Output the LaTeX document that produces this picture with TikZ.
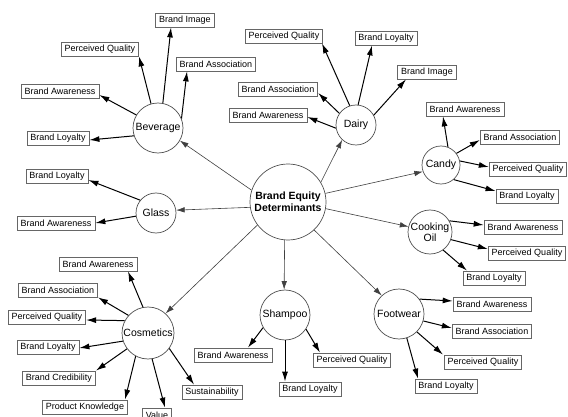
\documentclass[tikz,border=0pt]{standalone}
\usepackage{fontspec}
\setmainfont{Liberation Sans}
\usetikzlibrary{arrows.meta}
\definecolor{circgray}{HTML}{505050}
\definecolor{boxgray}{HTML}{666666}
\definecolor{hubline}{HTML}{404040}
\begin{document}
\begin{tikzpicture}[x=1pt,y=-1pt,
  cat/.style={circle, draw=circgray, line width=0.7pt, fill=white, inner sep=0pt,
    align=center, font=\fontsize{10.5}{11.5}\selectfont},
  hub/.style={cat, font=\bfseries\fontsize{10.5}{12}\selectfont},
  leaf/.style={rectangle, draw=boxgray, line width=0.8pt, fill=white,
    inner xsep=3.5pt, inner ysep=0pt, minimum height=14pt,
    font=\fontsize{9}{10}\selectfont},
  hub arrow/.style={-{Latex[length=8.5pt,width=5.5pt]}, line width=0.6pt, draw=hubline},
  leaf arrow/.style={-{Latex[length=10pt,width=6pt]}, line width=1pt}]
\useasboundingbox (0,0) rectangle (568,417);
\fill[white] (0,0) rectangle (568,417);

% hub and categories
\node[hub, minimum size=76pt] (hub) at (288,202) {Brand Equity\\Determinants};
\node[cat, minimum size=50pt] (bev) at (158,128) {Beverage};
\node[cat, minimum size=40pt] (gla) at (156,213) {Glass};
\node[cat, minimum size=40pt] (dai) at (356,125) {Dairy};
\node[cat, minimum size=38pt] (can) at (441,165) {Candy};
\node[cat, minimum size=44pt] (oil) at (430,232) {Cooking\\Oil};
\node[cat, minimum size=50pt] (foo) at (399,314) {Footwear};
\node[cat, minimum size=50pt] (sha) at (285,315) {Shampoo};
\node[cat, minimum size=52pt] (cos) at (148,333) {Cosmetics};

% Beverage
\node[leaf] (bevimg) at (185,20) {Brand Image};
\node[leaf] (bevpq)  at (100,49) {Perceived Quality};
\node[leaf] (bevba)  at (216,64) {Brand Association};
\node[leaf] (bevaw)  at (60,91)  {Brand Awareness};
\node[leaf] (bevbl)  at (58,138) {Brand Loyalty};
% Glass
\node[leaf] (glabl) at (57,176) {Brand Loyalty};
\node[leaf] (glaaw) at (56,223) {Brand Awareness};
% Dairy
\node[leaf] (daipq)  at (284,36) {Perceived Quality};
\node[leaf] (daibl)  at (386,38) {Brand Loyalty};
\node[leaf] (daiimg) at (427,72) {Brand Image};
\node[leaf] (daiba)  at (278,89) {Brand Association};
\node[leaf] (daiaw)  at (268,115) {Brand Awareness};
% Candy
\node[leaf] (canaw) at (465,109) {Brand Awareness};
\node[leaf] (canba) at (520,137) {Brand Association};
\node[leaf] (canpq) at (528,169) {Perceived Quality};
\node[leaf] (canbl) at (527,196) {Brand Loyalty};
% Cooking Oil
\node[leaf] (oilaw) at (523,227) {Brand Awareness};
\node[leaf] (oilpq) at (527,253) {Perceived Quality};
\node[leaf] (oilbl) at (494,278) {Brand Loyalty};
% Footwear
\node[leaf] (fooaw) at (492,304) {Brand Awareness};
\node[leaf] (fooba) at (492,331) {Brand Association};
\node[leaf] (foopq) at (483,362) {Perceived Quality};
\node[leaf] (foobl) at (446,386) {Brand Loyalty};
% Shampoo
\node[leaf] (shaaw) at (233,355) {Brand Awareness};
\node[leaf] (shapq) at (352,360) {Perceived Quality};
\node[leaf] (shabl) at (310,389) {Brand Loyalty};
% Cosmetics
\node[leaf] (cosaw)  at (98,264)  {Brand Awareness};
\node[leaf] (cosba)  at (58,290)  {Brand Association};
\node[leaf] (cospq)  at (47,317)  {Perceived Quality};
\node[leaf] (cosbl)  at (48,347)  {Brand Loyalty};
\node[leaf] (cosbc)  at (59,378)  {Brand Credibility};
\node[leaf] (cospk)  at (85,407)  {Product Knowledge};
\node[leaf] (cosval) at (157,415) {Value};
\node[leaf] (cossus) at (212,392) {Sustainability};

% hub to categories
\draw[hub arrow] (hub.162) -- (bev.330);
\draw[hub arrow] (hub.188) -- (gla.8);
\draw[hub arrow] (hub.31)  -- (dai.227);
\draw[hub arrow] (hub.13)  -- (can.200);
\draw[hub arrow] (hub.350) -- (oil.166);
\draw[hub arrow] (hub.313) -- (foo.133);
\draw[hub arrow] (hub.265) -- (sha.92);
\draw[hub arrow] (hub.217) -- (cos.48);

% Beverage
\draw[leaf arrow] (bev.79)  -- ([xshift=-14pt]bevimg.south);
\draw[leaf arrow] (bev.106) -- ([xshift=39pt]bevpq.south);
\draw[leaf arrow] (bev.22)  -- ([xshift=-29pt]bevba.south);
\draw[leaf arrow] (bev.149) -- ([yshift=-4pt]bevaw.east);
\draw[leaf arrow] (bev.198) -- ([yshift=-2pt]bevbl.east);
% Glass
\draw[leaf arrow] (gla.141) -- ([yshift=-4pt]glabl.east);
\draw[leaf arrow] (gla.189) -- (glaaw.east);
% Dairy
\draw[leaf arrow] (dai.108) -- ([xshift=38pt]daipq.south);
\draw[leaf arrow] (dai.84)  -- ([xshift=-14pt]daibl.south);
\draw[leaf arrow] (dai.29)  -- ([xshift=-21pt]daiimg.south);
\draw[leaf arrow] (dai.145) -- ([yshift=-4pt]daiba.east);
\draw[leaf arrow] (dai.189) -- ([yshift=-2pt]daiaw.east);
% Candy
\draw[leaf arrow] (can.69)  -- ([xshift=-22pt]canaw.south);
\draw[leaf arrow] (can.37)  -- ([yshift=-3pt]canba.west);
\draw[leaf arrow] (can.12)  -- ([yshift=2pt]canpq.west);
\draw[leaf arrow] (can.311) -- ([yshift=5pt]canbl.west);
% Cooking Oil
\draw[leaf arrow] (oil.30)  -- ([yshift=2pt]oilaw.west);
\draw[leaf arrow] (oil.340) -- ([yshift=4pt]oilpq.west);
\draw[leaf arrow] (oil.306) -- ([xshift=-27pt]oilbl.north);
% Footwear
\draw[leaf arrow] (foo.36)  -- ([yshift=3pt]fooaw.west);
\draw[leaf arrow] (foo.344) -- ([yshift=3pt]fooba.west);
\draw[leaf arrow] (foo.315) -- ([xshift=-40pt]foopq.north);
\draw[leaf arrow] (foo.288) -- ([xshift=-28pt]foobl.north);
% Shampoo
\draw[leaf arrow] (sha.210) -- ([xshift=15pt]shaaw.north);
\draw[leaf arrow] (sha.270) -- ([xshift=-25pt]shabl.north);
\draw[leaf arrow] (sha.326) -- ([xshift=-32pt]shapq.north);
% Cosmetics
\draw[leaf arrow] (cos.101) -- ([xshift=30pt]cosaw.south);
\draw[leaf arrow] (cos.138) -- ([xshift=40pt]cosba.south);
\draw[leaf arrow] (cos.152) -- ([yshift=-3pt]cospq.east);
\draw[leaf arrow] (cos.198) -- ([yshift=-1pt]cosbl.east);
\draw[leaf arrow] (cos.217) -- ([xshift=37pt]cosbc.north);
\draw[leaf arrow] (cos.242) -- ([xshift=40pt]cospk.north);
\draw[leaf arrow] (cos.279) -- ([xshift=8pt]cosval.north);
\draw[leaf arrow] (cos.324) -- ([xshift=-18pt]cossus.north);
\end{tikzpicture}
\end{document}
